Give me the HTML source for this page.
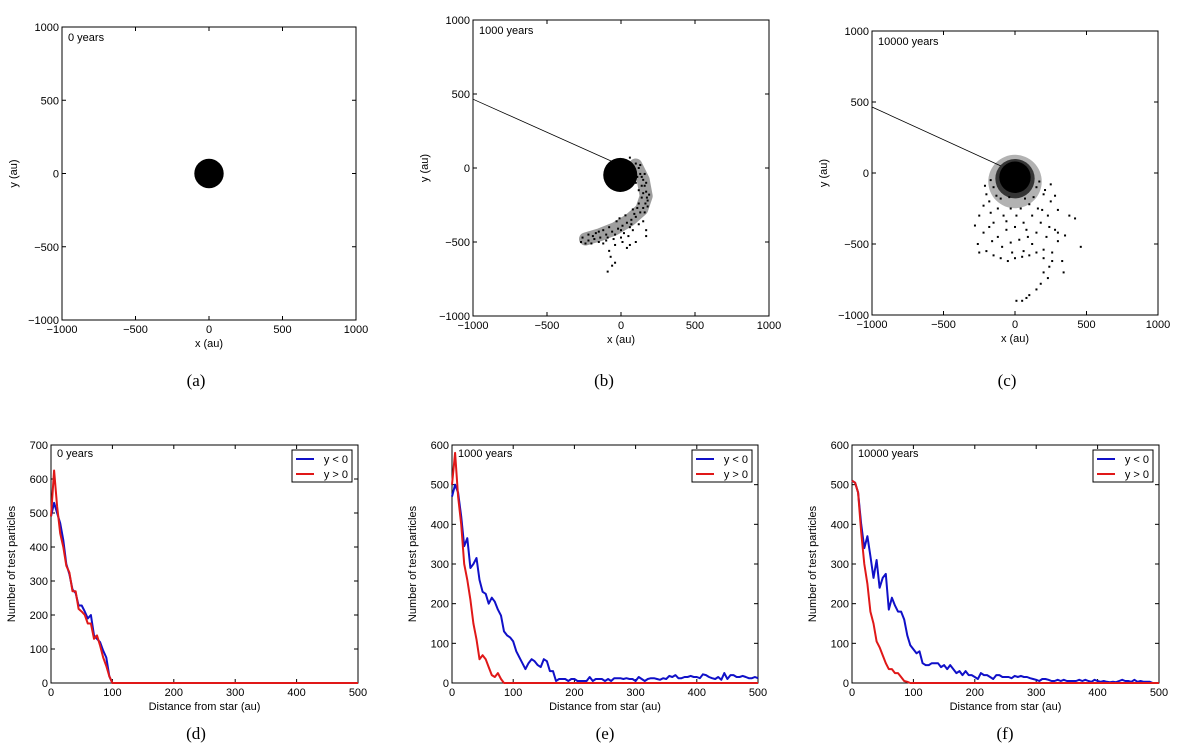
<!DOCTYPE html>
<html><head><meta charset="utf-8">
<style>
html,body{margin:0;padding:0;background:#fff;}
svg{display:block;font-family:"Liberation Sans",sans-serif;}
.tick{font-size:11px;fill:#000;}
.lab{font-size:11px;fill:#000;}
.cap{font-family:"Liberation Serif",serif;font-size:17px;fill:#000;}
</style></head>
<body>
<svg id="fig" width="1200" height="744" viewBox="0 0 1200 744" xmlns="http://www.w3.org/2000/svg"></svg>
<script>
// ---------- data ----------
const distBins = [0,5,10,15,20,25,30,35,40,45,50,55,60,65,70,75,80,85,90,95,100,105,110,115,120,125,130,135,140,145,150,155,160,165,170,175,180,185,190,195,200,205,210,215,220,225,230,235,240,245,250,255,260,265,270,275,280,285,290,295,300,305,310,315,320,325,330,335,340,345,350,355,360,365,370,375,380,385,390,395,400,405,410,415,420,425,430,435,440,445,450,455,460,465,470,475,480,485,490,495,500];
const d_blue = [490,530,500,470,420,350,320,275,265,228,228,210,190,200,140,130,120,95,75,20,0,0,0,0,0,0,0,0,0,0,0,0,0,0,0,0,0,0,0,0,0,0,0,0,0,0,0,0,0,0,0,0,0,0,0,0,0,0,0,0,0,0,0,0,0,0,0,0,0,0,0,0,0,0,0,0,0,0,0,0,0,0,0,0,0,0,0,0,0,0,0,0,0,0,0,0,0,0,0,0,0];
const d_red = [490,625,520,440,400,345,325,270,270,218,210,200,175,175,130,140,110,75,50,20,0,0,0,0,0,0,0,0,0,0,0,0,0,0,0,0,0,0,0,0,0,0,0,0,0,0,0,0,0,0,0,0,0,0,0,0,0,0,0,0,0,0,0,0,0,0,0,0,0,0,0,0,0,0,0,0,0,0,0,0,0,0,0,0,0,0,0,0,0,0,0,0,0,0,0,0,0,0,0,0,0];
const e_blue = [470,500,480,420,345,365,290,300,315,260,230,225,200,215,205,185,170,130,120,115,105,80,65,50,35,50,60,55,45,40,60,55,30,30,5,10,10,10,5,10,10,5,5,5,5,15,5,10,10,10,5,10,5,12,12,12,10,12,10,10,5,15,10,5,10,12,12,10,8,12,10,18,15,20,12,12,15,15,18,15,15,12,22,20,15,12,10,15,8,25,10,20,20,15,15,18,15,12,12,15,12];
const e_red = [500,580,470,400,300,260,210,150,110,60,70,60,40,20,15,25,10,0,0,0,0,0,0,0,0,0,0,0,0,0,0,0,0,0,0,0,0,0,0,0,0,0,0,0,0,0,0,0,0,0,0,0,0,0,0,0,0,0,0,0,0,0,0,0,0,0,0,0,0,0,0,0,0,0,0,0,0,0,0,0,0,0,0,0,0,0,0,0,0,0,0,0,0,0,0,0,0,0,0,0,0];
const f_blue = [510,505,480,400,340,370,320,265,310,240,265,275,185,215,195,180,180,160,120,95,85,75,80,50,45,45,50,50,50,40,45,35,45,35,25,30,20,30,20,20,15,10,25,20,20,15,10,20,20,15,15,15,12,18,15,18,15,15,12,10,8,5,10,10,8,5,5,8,5,8,5,5,5,5,8,5,8,5,3,8,5,3,5,3,2,3,2,5,8,5,5,3,8,3,5,3,3,3,0,0,0];
const f_red = [510,505,480,380,300,250,180,150,105,90,70,50,35,35,25,25,15,5,3,0,0,0,0,0,0,0,0,0,0,0,0,0,0,0,0,0,0,0,0,0,0,0,0,0,0,0,0,0,0,0,0,0,0,0,0,0,0,0,0,0,0,0,0,0,0,0,0,0,0,0,0,0,0,0,0,0,0,0,0,0,0,0,0,0,0,0,0,0,0,0,0,0,0,0,0,0,0,0,0,0,0];
const xyTicks = [-1000,-500,0,500,1000];
const distTicks = [0,100,200,300,400,500];
const dTicks = [0,100,200,300,400,500,600,700];
const efTicks = [0,100,200,300,400,500,600];
const a_core = [0,0,100];
const b_core = [-5,-47,115];
const c_core = [0,-30,110];
const b_trail = [-1000,465,-50,40];
const c_trail = [-1000,465,-100,50];
const b_armCenter = [[100,20],[150,-80],[170,-190],[140,-280],[60,-350],[-40,-410],[-140,-450],[-240,-480]];
const b_arm = [[60,70],[100,30],[120,0],[130,-40],[150,-80],[160,-120],[170,-160],[175,-200],[165,-240],[150,-270],[130,-300],[100,-330],[70,-350],[40,-370],[10,-390],[-20,-410],[-60,-430],[-100,-450],[-140,-470],[-180,-480],[-220,-490],[-260,-470],[-200,-510],[-150,-500],[-100,-490],[-50,-480],[0,-470],[50,-460],[80,-420],[120,-380],[150,-360],[170,-420],[20,-440],[-80,-400],[-30,-360],[30,-320],[80,-280],[120,-240],[140,-200],[120,-150],[100,-100],[140,-120],[180,-260],[-120,-420],[-220,-450],[-40,-520],[-80,-560],[-70,-600],[-40,-640],[-60,-660],[-90,-700],[60,-520],[100,-500],[0,-420],[-170,-440],[-240,-510],[160,-300],[60,-400],[-10,-340],[110,-270],[150,-170],[170,-100],[130,20],[180,-220],[190,-180],[90,-310],[-120,-510],[-270,-500],[-190,-460],[10,-500],[40,-540],[170,-460],[140,-60],[110,-60],[160,-40],[70,-380],[-40,-450],[-150,-430],[-90,-470]];
const c_cloud = [[-150,-100],[-200,-150],[-180,-200],[-120,-250],[-250,-300],[-280,-370],[-220,-420],[-260,-500],[-200,-550],[-150,-580],[-100,-600],[-50,-620],[0,-600],[50,-590],[100,-580],[150,-560],[200,-540],[260,-620],[300,-420],[350,-440],[380,-300],[420,-320],[460,-520],[250,-200],[300,-260],[200,-150],[150,-100],[250,-80],[280,-160],[120,-300],[60,-350],[0,-380],[-60,-400],[-120,-450],[-30,-250],[40,-250],[100,-220],[-80,-300],[-150,-350],[180,-350],[220,-450],[150,-420],[90,-450],[30,-470],[-30,-490],[-90,-520],[-160,-480],[200,-700],[230,-740],[180,-780],[150,-820],[100,-860],[80,-880],[50,-900],[10,-900],[240,-660],[260,-560],[340,-700],[300,-480],[230,-300],[-220,-230],[-100,-180],[130,-170],[190,-260],[70,-180],[-40,-170],[-170,-280],[280,-400],[330,-620],[200,-600],[120,-500],[60,-550],[-20,-560],[-250,-560],[-180,-380],[10,-300],[80,-400],[-60,-340],[160,-250],[240,-380],[-130,-160],[170,-60],[-170,-50],[210,-120],[-210,-90]];

// ---------- helpers ----------
const svg = document.getElementById('fig');
const NS = 'http://www.w3.org/2000/svg';
function mk(tag, attrs, parent){
  const e = document.createElementNS(NS, tag);
  for (const k in attrs) e.setAttribute(k, attrs[k]);
  (parent||svg).appendChild(e);
  return e;
}
function txt(str, x, y, cls, anchor, parent){
  const t = mk('text', {x:x, y:y, class:cls, 'text-anchor':anchor||'middle'}, parent);
  t.textContent = str;
  return t;
}
function linScale(d0,d1,r0,r1){ return v => r0 + (v-d0)/(d1-d0)*(r1-r0); }

function axesFrame(g, L, T, R, B, xt, yt, sx, sy, xlab, ylab, ylabX){
  const frame = mk('rect', {x:L, y:T, width:R-L, height:B-T, fill:'none', stroke:'#000', 'stroke-width':1}, g);
  
  
  xt.forEach(v => {
    const x = sx(v);
    mk('line', {x1:x, y1:B, x2:x, y2:B-4, stroke:'#000'}, g);
    mk('line', {x1:x, y1:T, x2:x, y2:T+4, stroke:'#000'}, g);
    const t = txt(String(v).replace('-', '\u2212'), x, B+13, 'tick', 'middle', g);
    
    
  });
  yt.forEach(v => {
    const y = sy(v);
    mk('line', {x1:L, y1:y, x2:L+4, y2:y, stroke:'#000'}, g);
    mk('line', {x1:R, y1:y, x2:R-4, y2:y, stroke:'#000'}, g);
    const t = txt(String(v).replace('-', '\u2212'), L-3, y+4, 'tick', 'end', g);
    
    
  });
  const xl = txt(xlab, (L+R)/2, B+27, 'lab', 'middle', g);
  
  
  const cy = (T+B)/2;
  const yl = txt(ylab, ylabX, cy, 'lab', 'middle', g);
  yl.setAttribute('transform', 'rotate(-90 '+ylabX+' '+cy+')');
  
  
}

function scatterPanel(name, L, T, R, B, label, core, trail, pts, halo, band, caption, capX){
  const g = mk('g', {});
  
  
  const sx = linScale(-1000,1000,L,R), sy = linScale(-1000,1000,B,T);
  const k = (R-L)/2000;
  if (trail){
    const tr = mk('line', {x1:sx(trail[0]), y1:sy(trail[1]), x2:sx(trail[2]), y2:sy(trail[3]), stroke:'#000', 'stroke-width':0.8}, g);
    
    
  }
  if (band){
    const d = band.map((p,i) => (i?'L':'M') + sx(p[0]).toFixed(1) + ' ' + sy(p[1]).toFixed(1)).join(' ');
    const bp = mk('path', {d:d, fill:'none', stroke:'#000', 'stroke-opacity':0.38, 'stroke-width':13, 'stroke-linecap':'round', 'stroke-linejoin':'round'}, g);
    
    
  }
  if (halo){
    const h = mk('circle', {cx:sx(core[0]), cy:sy(core[1]-30), r:core[2]*k*1.7, fill:'#000', opacity:0.3}, g);
    
    
    const h2 = mk('circle', {cx:sx(core[0]), cy:sy(core[1]-10), r:core[2]*k*1.25, fill:'#000', opacity:0.7}, g);
    
    
  }
  const c = mk('circle', {cx:sx(core[0]), cy:sy(core[1]), r:core[2]*k, fill:'#000'}, g);
  
  
  (pts||[]).forEach(p => {
    const d = mk('rect', {x:sx(p[0])-1, y:sy(p[1])-1, width:2, height:2, fill:'#000'}, g);
    
    
  });
  axesFrame(g, L, T, R, B, xyTicks, xyTicks, sx, sy, 'x (au)', 'y (au)', L-45);
  const lt = txt(label, L+6, T+14, 'tick', 'start', g);
  
  
  const cp = txt(caption, capX, 386, 'cap', 'middle', g);
  
  
}

function linePanel(name, L, T, R, B, ymax, yt, label, blue, red, caption, capX){
  const g = mk('g', {});
  
  
  const sx = linScale(0,500,L,R), sy = linScale(0,ymax,B,T);
  axesFrame(g, L, T, R, B, distTicks, yt, sx, sy, 'Distance from star (au)', 'Number of test particles', L-36);
  const mkLine = (arr, col, nm) => {
    const d = arr.map((v,i) => (i?'L':'M') + sx(distBins[i]).toFixed(1) + ' ' + sy(v).toFixed(1)).join(' ');
    const p = mk('path', {d:d, fill:'none', stroke:col, 'stroke-width':2, 'stroke-linejoin':'round'}, g);
    
    
  };
  mkLine(blue, '#1010c8', 'series-y-below-0');
  mkLine(red, '#e01818', 'series-y-above-0');
  const lt = txt(label, L+6, T+12, 'tick', 'start', g);
  
  
  const lg = mk('g', {}, g);
  
  
  mk('rect', {x:R-66, y:T+5, width:60, height:32, fill:'#fff', stroke:'#000'}, lg);
  mk('line', {x1:R-62, y1:T+14, x2:R-44, y2:T+14, stroke:'#1010c8', 'stroke-width':2}, lg);
  mk('line', {x1:R-62, y1:T+29, x2:R-44, y2:T+29, stroke:'#e01818', 'stroke-width':2}, lg);
  const l1 = txt('y < 0', R-10, T+18, 'tick', 'end', lg);
  
  
  const l2 = txt('y > 0', R-10, T+33, 'tick', 'end', lg);
  
  
  const cp = txt(caption, capX, 739, 'cap', 'middle', g);
  
  
}

scatterPanel('panel-a', 62, 27, 356, 320, '0 years', a_core, null, [], false, null, '(a)', 196);
scatterPanel('panel-b', 473, 20, 769, 316, '1000 years', b_core, b_trail, b_arm, false, b_armCenter, '(b)', 604);
scatterPanel('panel-c', 872, 31, 1158, 315, '10000 years', c_core, c_trail, c_cloud, true, null, '(c)', 1007);
linePanel('panel-d', 51, 445, 358, 683, 700, dTicks, '0 years', d_blue, d_red, '(d)', 196);
linePanel('panel-e', 452, 445, 758, 683, 600, efTicks, '1000 years', e_blue, e_red, '(e)', 605);
linePanel('panel-f', 852, 445, 1159, 683, 600, efTicks, '10000 years', f_blue, f_red, '(f)', 1005);
</script>
</body></html>
